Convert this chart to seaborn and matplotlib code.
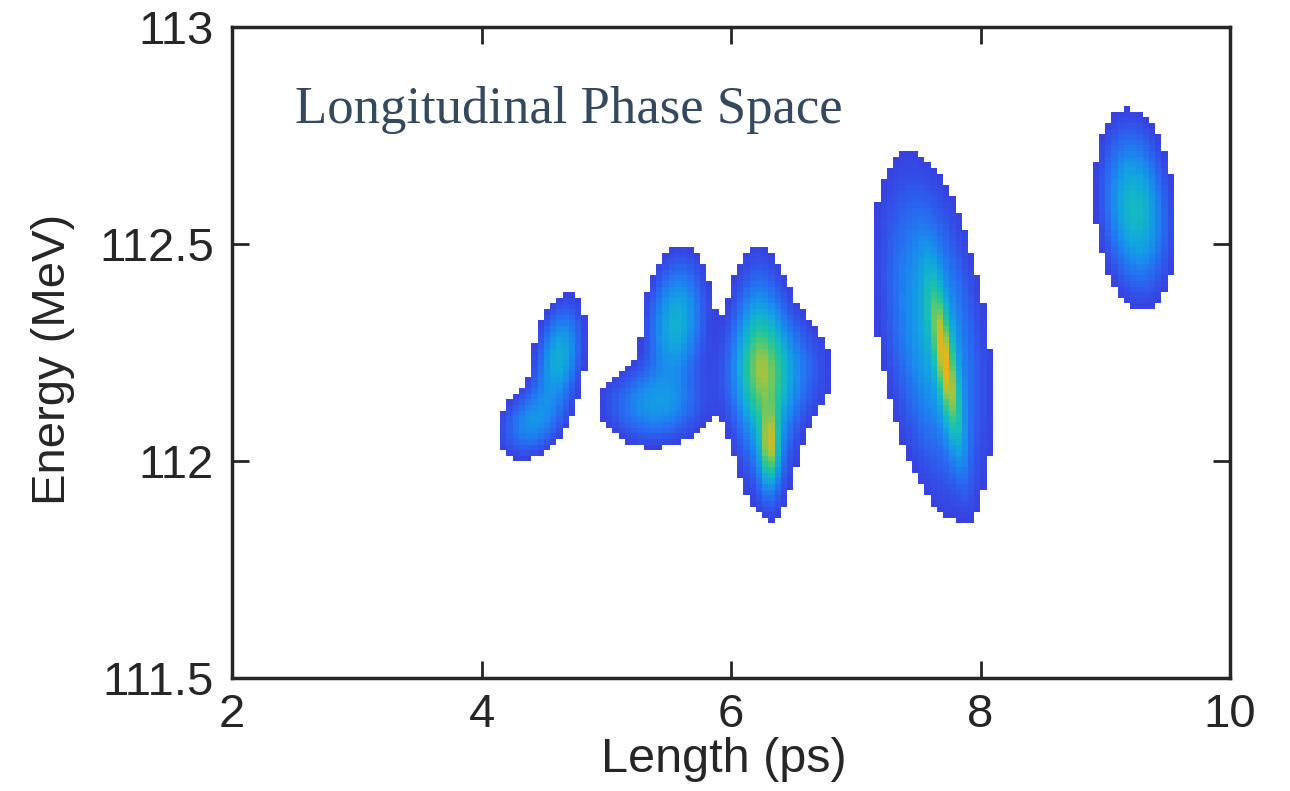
import numpy as np
import pandas as pd
import matplotlib
matplotlib.use("Agg")
import matplotlib.pyplot as plt
from matplotlib.colors import LinearSegmentedColormap
import seaborn as sns

# ---- data: beam-let components (length ps, energy MeV) ----
blob_x   = [4.62, 4.40, 5.56, 5.38, 6.26, 6.36, 6.31, 6.22, 7.62, 7.72, 9.24]
blob_y   = [112.24, 112.09, 112.32, 112.13, 112.18, 112.21, 112.03, 112.25, 112.29, 112.22, 112.58]
blob_sx  = [0.11, 0.15, 0.14, 0.24, 0.15, 0.27, 0.05, 0.10, 0.23, 0.055, 0.16]
blob_sy  = [0.075, 0.05, 0.09, 0.055, 0.155, 0.08, 0.06, 0.10, 0.22, 0.13, 0.115]
blob_k   = [0.45, 0.8, 0.25, 0.0, -0.13, 0.0, 0.0, 0.0, -0.45, -0.53, -0.25]
blob_amp = [0.40, 0.28, 0.42, 0.30, 0.42, 0.24, 0.55, 0.16, 0.38, 0.58, 0.47]

x_limits = [2, 10]
y_limits = [111.5, 113]
x_ticks = [2, 4, 6, 8, 10]
y_ticks = [111.5, 112, 112.5, 113]
y_ticklabels = ["111.5", "112", "112.5", "113"]
title_text = "Longitudinal Phase Space"

# ---- pixel grid of the measured intensity ----
dx, dy = 0.05, 0.013
xe = np.arange(3.8, 10.0 + dx, dx)
ye = np.arange(111.7, 112.95 + dy, dy)
xc = 0.5 * (xe[:-1] + xe[1:])
yc = 0.5 * (ye[:-1] + ye[1:])
XX, YY = np.meshgrid(xc, yc)
I = np.zeros_like(XX)
for cx, cy, sx, sy, k, a in zip(blob_x, blob_y, blob_sx, blob_sy, blob_k, blob_amp):
    u = (XX - cx - k * (YY - cy)) / sx
    v = (YY - cy) / sy
    I += a * np.exp(-0.5 * (u ** 2 + v ** 2))

df = pd.DataFrame({"length": XX.ravel(), "energy": YY.ravel(), "w": I.ravel()})

parula_like = LinearSegmentedColormap.from_list(
    "parula_like",
    [(0.00, "#3b30cc"), (0.08, "#3548e4"), (0.16, "#2a66f0"), (0.26, "#1b88ee"),
     (0.36, "#12a4e0"), (0.46, "#14b8c4"), (0.56, "#20c4a0"), (0.66, "#50c874"),
     (0.78, "#a8c43c"), (0.90, "#e8b41a"), (1.00, "#f8a000")])

sns.set_style("white")
plt.rcParams["font.family"] = ["Liberation Sans", "DejaVu Sans"]

fig = plt.figure(figsize=(12.9, 7.91), dpi=100)
ax = fig.add_axes([232 / 1290, 1 - 678 / 791, (1230 - 232) / 1290, (678 - 27) / 791])

sns.histplot(data=df, x="length", y="energy", weights="w", bins=[xe, ye],
             thresh=0.06, cmap=parula_like, vmin=0.0, vmax=1.0, ax=ax)

ax.set_xlim(x_limits)
ax.set_ylim(y_limits)
ax.set_xticks(x_ticks)
ax.set_yticks(y_ticks)
ax.set_yticklabels(y_ticklabels)
ax.tick_params(axis="both", which="both", direction="in", length=12, width=2,
               color="#262626", labelsize=34, labelcolor="#262626",
               top=True, right=True, bottom=True, left=True)
ax.tick_params(axis="y", pad=13)
ax.tick_params(axis="x", pad=11)
for s in ax.spines.values():
    s.set_linewidth(2.5)
    s.set_color("#262626")
    s.set_visible(True)
ax.set_xlabel("Length (ps)", fontsize=35, color="#262626")
ax.set_ylabel("Energy (MeV)", fontsize=34, color="#262626")
ax.xaxis.set_label_coords(0.493, -0.1444)
ax.xaxis.label.set_va("baseline")
ax.yaxis.set_label_coords(-0.157, 0.49)
ax.text(0.063, 0.873, title_text, transform=ax.transAxes, fontsize=38,
        color="#34495e", family=["Liberation Serif", "DejaVu Serif"], va="center", ha="left")

fig.savefig("out.png", dpi=100)
